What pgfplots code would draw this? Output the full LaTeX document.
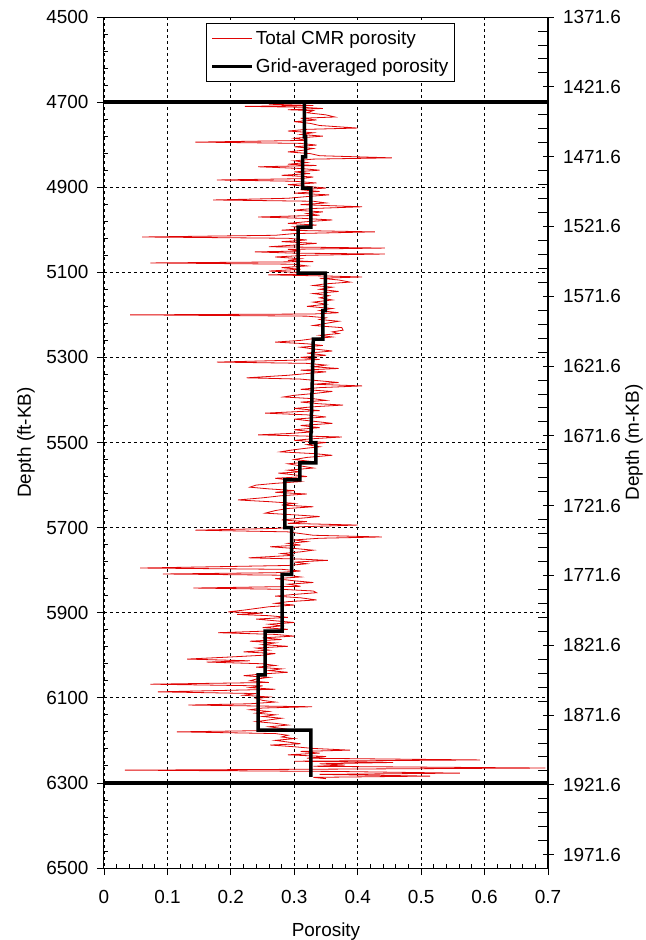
\documentclass[border=0pt]{standalone}
\usepackage{fontspec}
\setmainfont{Liberation Sans}
\usepackage{pgfplots}
\pgfplotsset{compat=1.18}
\definecolor{logred}{rgb}{0.88,0.02,0.02}
\begin{document}
\begin{tikzpicture}
\begin{axis}[
 scale only axis, width=444bp, height=851bp,
 at={(0bp,0bp)}, anchor=south west,
 xmin=0, xmax=0.7, ymin=4500, ymax=6500, y dir=reverse,
 xtick={0,0.1,0.2,0.3,0.4,0.5,0.6,0.7},
 xticklabels={0,0.1,0.2,0.3,0.4,0.5,0.6,0.7},
 ytick={4500,4700,4900,5100,5300,5500,5700,5900,6100,6300,6500},
 yticklabels={4500,4700,4900,5100,5300,5500,5700,5900,6100,6300,6500},
 minor x tick num=4, minor y tick num=4,
 xtick pos=bottom, ytick pos=left,
 tick align=outside, major tick length=7bp, minor tick length=4bp,
 minor x tick style={yshift=4bp}, minor y tick style={xshift=4bp},
 tick style={black, line width=0.8bp},
 grid=major, major grid style={black, line width=0.8bp, dash pattern=on 3bp off 3bp},
 axis line style={line width=1bp},
 tick label style={font=\fontsize{19}{21}\selectfont},
 xticklabel style={yshift=-12bp},
 yticklabel style={xshift=-5bp},
 label style={font=\fontsize{19}{21}\selectfont},
 xlabel=Porosity, ylabel={Depth (ft-KB)},
 xlabel style={at={(axis description cs:0.5,-0.0646)}, anchor=north, inner sep=0pt},
 ylabel style={at={(axis description cs:-0.196,0.5)}, anchor=north, inner sep=0pt},
 legend style={at={(0.2297,0.993)}, anchor=north west, draw=black, line width=0.8bp,
   font=\fontsize{19}{21}\selectfont, inner xsep=4bp, inner ysep=1bp,
   nodes={inner xsep=2bp, inner ysep=6.5bp}},
 legend cell align=left,
 legend image code/.code={\draw[#1] (0bp,0bp) -- (40bp,0bp);},
]
\addplot[color=logred, line width=0.8bp] table[x=p, y=d] {
p d
0.315 4700
0.300 4702
0.260 4705
0.330 4708
0.222 4710
0.310 4712
0.345 4715
0.290 4718
0.330 4720
0.320 4725
0.350 4730
0.364 4735
0.310 4738
0.335 4742
0.300 4746
0.325 4750
0.340 4755
0.400 4761
0.320 4764
0.290 4768
0.330 4772
0.310 4776
0.345 4780
0.300 4785
0.320 4790
0.144 4794
0.310 4797
0.335 4801
0.300 4805
0.330 4809
0.315 4813
0.290 4817
0.325 4821
0.340 4826
0.454 4831
0.330 4834
0.300 4838
0.320 4842
0.290 4846
0.335 4849
0.243 4852
0.310 4856
0.340 4860
0.300 4864
0.325 4868
0.280 4872
0.330 4876
0.310 4880
0.178 4883
0.300 4886
0.335 4890
0.290 4894
0.320 4898
0.350 4902
0.310 4906
0.340 4910
0.300 4914
0.355 4918
0.320 4922
0.290 4926
0.172 4930
0.330 4933
0.350 4937
0.310 4941
0.407 4946
0.330 4950
0.300 4954
0.345 4958
0.320 4962
0.340 4966
0.243 4970
0.310 4973
0.360 4977
0.320 4981
0.290 4985
0.335 4989
0.300 4993
0.320 4997
0.280 5001
0.427 5005
0.300 5009
0.270 5013
0.060 5017
0.290 5020
0.320 5024
0.280 5028
0.335 5032
0.300 5036
0.260 5040
0.443 5043
0.290 5046
0.310 5050
0.238 5052
0.300 5055
0.443 5057
0.320 5060
0.270 5064
0.310 5068
0.290 5072
0.330 5075
0.073 5078
0.300 5081
0.320 5085
0.280 5089
0.310 5093
0.260 5097
0.300 5100
0.350 5103
0.259 5106
0.360 5109
0.407 5111
0.340 5114
0.370 5118
0.388 5123
0.350 5127
0.330 5131
0.360 5135
0.340 5140
0.370 5145
0.330 5150
0.355 5155
0.340 5160
0.360 5165
0.330 5170
0.350 5175
0.320 5180
0.360 5185
0.340 5190
0.370 5195
0.330 5198
0.041 5200
0.320 5203
0.350 5207
0.340 5211
0.370 5215
0.350 5220
0.330 5225
0.375 5230
0.377 5236
0.360 5240
0.370 5244
0.340 5248
0.360 5252
0.330 5256
0.310 5260
0.270 5264
0.320 5268
0.345 5272
0.310 5276
0.330 5280
0.360 5285
0.320 5290
0.350 5295
0.310 5300
0.340 5305
0.178 5311
0.320 5314
0.350 5318
0.330 5322
0.370 5326
0.310 5330
0.350 5334
0.320 5338
0.290 5342
0.225 5348
0.310 5351
0.340 5355
0.370 5359
0.330 5363
0.407 5367
0.340 5371
0.310 5375
0.360 5380
0.330 5385
0.300 5389
0.283 5393
0.330 5397
0.350 5401
0.310 5405
0.340 5409
0.377 5412
0.330 5416
0.300 5420
0.340 5425
0.254 5431
0.320 5435
0.350 5440
0.300 5445
0.330 5450
0.360 5455
0.310 5460
0.340 5465
0.300 5470
0.330 5475
0.290 5479
0.243 5482
0.320 5485
0.375 5487
0.330 5491
0.300 5495
0.350 5500
0.320 5505
0.340 5510
0.310 5515
0.290 5519
0.278 5522
0.330 5526
0.360 5530
0.320 5535
0.300 5540
0.330 5545
0.290 5550
0.310 5555
0.330 5560
0.290 5565
0.310 5569
0.275 5572
0.300 5576
0.320 5580
0.270 5584
0.290 5588
0.310 5592
0.270 5596
0.240 5600
0.230 5605
0.260 5609
0.300 5613
0.270 5617
0.320 5621
0.280 5625
0.250 5630
0.211 5635
0.260 5639
0.300 5643
0.280 5647
0.330 5651
0.290 5655
0.270 5660
0.254 5666
0.300 5670
0.340 5674
0.310 5678
0.280 5682
0.320 5686
0.290 5690
0.400 5694
0.310 5698
0.270 5702
0.144 5706
0.290 5710
0.310 5714
0.330 5718
0.438 5722
0.340 5725
0.300 5729
0.320 5733
0.290 5737
0.310 5741
0.262 5745
0.300 5749
0.330 5753
0.310 5757
0.280 5761
0.300 5765
0.228 5771
0.310 5774
0.353 5777
0.300 5781
0.320 5785
0.290 5789
0.057 5795
0.280 5798
0.310 5802
0.270 5806
0.093 5809
0.290 5812
0.310 5816
0.270 5820
0.300 5825
0.330 5829
0.290 5833
0.310 5838
0.141 5842
0.280 5845
0.330 5849
0.335 5853
0.300 5857
0.270 5861
0.310 5865
0.335 5870
0.290 5874
0.270 5878
0.300 5882
0.260 5886
0.240 5890
0.220 5894
0.196 5898
0.250 5901
0.210 5904
0.260 5907
0.290 5911
0.240 5915
0.270 5919
0.300 5923
0.260 5927
0.280 5931
0.250 5935
0.290 5939
0.260 5943
0.180 5947
0.270 5951
0.300 5955
0.250 5959
0.280 5963
0.230 5967
0.270 5971
0.250 5975
0.290 5979
0.240 5983
0.260 5988
0.220 5992
0.270 5996
0.250 6000
0.200 6004
0.131 6009
0.230 6013
0.162 6016
0.250 6020
0.270 6024
0.240 6028
0.280 6032
0.260 6036
0.290 6040
0.250 6044
0.220 6048
0.260 6052
0.240 6056
0.230 6060
0.260 6064
0.073 6068
0.250 6072
0.230 6076
0.270 6080
0.085 6086
0.240 6090
0.220 6094
0.260 6098
0.240 6102
0.250 6106
0.270 6110
0.230 6114
0.133 6117
0.328 6121
0.250 6124
0.230 6128
0.260 6132
0.240 6136
0.270 6140
0.250 6144
0.280 6148
0.260 6152
0.240 6156
0.270 6160
0.290 6164
0.260 6168
0.280 6172
0.300 6176
0.115 6180
0.270 6184
0.290 6188
0.280 6192
0.300 6196
0.270 6200
0.290 6204
0.310 6208
0.262 6211
0.300 6215
0.330 6219
0.388 6223
0.310 6226
0.340 6230
0.290 6234
0.350 6238
0.320 6242
0.593 6246
0.300 6249
0.456 6252
0.340 6255
0.380 6258
0.330 6261
0.696 6265
0.310 6268
0.033 6270
0.360 6273
0.561 6277
0.340 6280
0.514 6284
0.330 6287
0.350 6290
};
\addlegendentry{Total CMR porosity}
\addplot[black, line width=3.5bp] coordinates {
(0.316,4700) (0.316,4782) (0.318,4782) (0.318,4829) (0.313,4829) (0.313,4902)
(0.326,4902) (0.326,4994) (0.306,4994) (0.306,5102) (0.349,5102) (0.349,5190)
(0.345,5190) (0.345,5257) (0.330,5257) (0.326,5500) (0.334,5500) (0.334,5548)
(0.309,5548) (0.309,5588) (0.285,5588) (0.285,5700) (0.296,5700) (0.296,5810)
(0.281,5810) (0.281,5943) (0.254,5943) (0.254,6046) (0.243,6046) (0.243,6176)
(0.326,6176) (0.326,6286)
};
\addlegendentry{Grid-averaged porosity}
\addplot[black, line width=4bp, forget plot] coordinates {(0,4700) (0.7,4700)};
\addplot[black, line width=4bp, forget plot] coordinates {(0,6300) (0.7,6300)};
\end{axis}
\begin{axis}[
 scale only axis, width=444bp, height=851bp,
 at={(0bp,0bp)}, anchor=south west,
 xmin=0, xmax=0.7, ymin=1371.6, ymax=1981.2, y dir=reverse,
 axis x line=none, axis y line*=right,
 ytick={1371.6,1421.6,1471.6,1521.6,1571.6,1621.6,1671.6,1721.6,1771.6,1821.6,1871.6,1921.6,1971.6},
 yticklabels={1371.6,1421.6,1471.6,1521.6,1571.6,1621.6,1671.6,1721.6,1771.6,1821.6,1871.6,1921.6,1971.6},
 minor y tick num=4,
 tick align=center, major tick length=11bp, minor tick length=10bp,
 minor y tick style={xshift=-5bp},
 tick style={black, line width=0.8bp},
 axis line style={line width=1bp},
 tick label style={font=\fontsize{19}{21}\selectfont},
 yticklabel style={xshift=6bp},
 label style={font=\fontsize{19}{21}\selectfont},
 ylabel={Depth (m-KB)},
 ylabel style={at={(axis description cs:1.1734,0.5)}, anchor=north, inner sep=0pt},
]
\addplot[draw=none] coordinates {(0.1,1400)};
\end{axis}
\pgfresetboundingbox
\useasboundingbox (-104bp,-72bp) rectangle (542bp,868bp);
\end{tikzpicture}
\end{document}
